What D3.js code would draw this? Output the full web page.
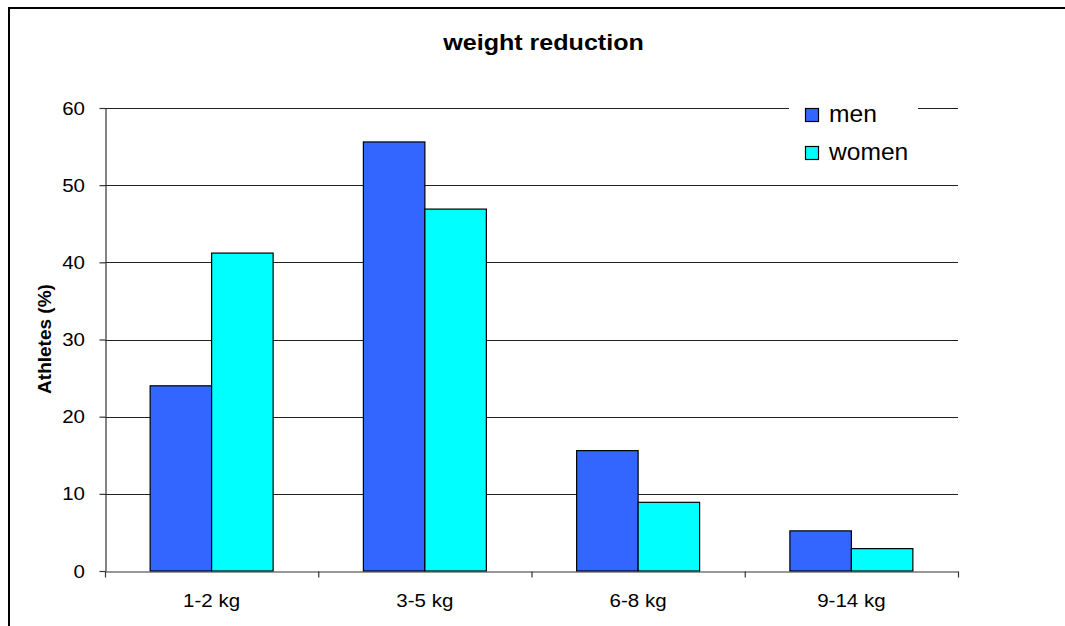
<!DOCTYPE html>
<html><head><meta charset="utf-8">
<script src="https://cdn.jsdelivr.net/npm/d3@7"></script>
<style>
html,body{margin:0;padding:0;background:#fff;overflow:hidden;}
svg{display:block;font-family:"Liberation Sans",Arial,sans-serif;}
</style></head>
<body>
<svg id="chart" width="1065" height="626"></svg>
<script>
const categories = ["1-2 kg", "3-5 kg", "6-8 kg", "9-14 kg"];
const seriesNames = ["men", "women"];
const menValues = [24.0, 55.6, 15.6, 5.2];
const womenValues = [41.2, 46.9, 8.9, 2.9];
const yTicks = [0, 10, 20, 30, 40, 50, 60];
const colors = {men: "#3366FF", women: "#00FFFF"};

(function () {
const svg = d3.select("#chart");
const SX = 1.08;
const pLeft = 105, pRight = 958, pTop = 108, pBottom = 571;

// outer border (left and top edges visible only)
svg.append("path").attr("d", "M9,630 L9,8 L1070,8")
  .attr("fill", "none").attr("stroke", "#000").attr("stroke-width", 2);

const x0 = d3.scaleBand().domain(categories).range([pLeft, pRight]).padding(0);
const x1 = d3.scaleBand().domain(seriesNames).range([0, x0.bandwidth()]).paddingInner(0).paddingOuter(0.734);
const y = d3.scaleLinear().domain([0, 60]).range([pBottom, pTop]);

// gridlines
svg.append("g").selectAll("line").data(yTicks.filter(d => d > 0)).join("line")
  .attr("x1", pLeft).attr("x2", pRight)
  .attr("y1", d => Math.round(y(d)) + 0.5).attr("y2", d => Math.round(y(d)) + 0.5)
  .attr("stroke", "#222").attr("stroke-width", 1);

// bars
const data = categories.map((c, i) => ({cat: c, men: menValues[i], women: womenValues[i]}));
const groups = svg.append("g").selectAll("g").data(data).join("g")
  .attr("transform", d => `translate(${x0(d.cat)},0)`);
groups.selectAll("rect").data(d => seriesNames.map(s => ({s, v: d[s]}))).join("rect")
  .attr("x", d => x1(d.s)).attr("width", x1.bandwidth())
  .attr("y", d => y(d.v)).attr("height", d => y(0) - y(d.v))
  .attr("fill", d => colors[d.s]).attr("stroke", "#000").attr("stroke-width", 1.2);

// y axis
const yAxis = svg.append("g").attr("transform", `translate(${pLeft + 0.5},0)`)
  .call(d3.axisLeft(y).tickValues(yTicks).tickSize(6).tickSizeOuter(0).tickPadding(13));
yAxis.select(".domain").attr("stroke", "#333").attr("stroke-width", 1.2);
yAxis.selectAll(".tick line").attr("stroke", "#333").attr("stroke-width", 1.2);
yAxis.selectAll(".tick text").attr("font-size", 19).attr("fill", "#000")
  .attr("font-family", "Liberation Sans, Arial, sans-serif")
  .attr("transform", `scale(${SX},1)`);

// x axis
const xTickScale = d3.scaleLinear().domain([0, categories.length]).range([pLeft, pRight]);
const xAxisG = svg.append("g").attr("transform", `translate(0,${pBottom + 0.5})`);
xAxisG.append("g").call(d3.axisBottom(xTickScale).tickValues(d3.range(categories.length + 1)).tickSize(6).tickSizeOuter(0).tickFormat(""))
  .call(g => { g.select(".domain").attr("stroke", "#333").attr("stroke-width", 1.2);
               g.selectAll(".tick line").attr("stroke", "#333").attr("stroke-width", 1.2); });
const xLab = xAxisG.append("g").call(d3.axisBottom(x0).tickSize(0).tickPadding(22));
xLab.select(".domain").remove();
xLab.selectAll(".tick text").attr("font-size", 19).attr("fill", "#000")
  .attr("font-family", "Liberation Sans, Arial, sans-serif")
  .attr("transform", `scale(${SX},1)`);

// title
svg.append("text").attr("transform", `translate(543.5,50) scale(1.14,1)`)
  .attr("text-anchor", "middle").attr("font-size", 22).attr("font-weight", "bold")
  .text("weight reduction");

// y label
svg.append("text").attr("transform", `translate(51,339) rotate(-90)`)
  .attr("text-anchor", "middle").attr("font-size", 19).attr("font-weight", "bold")
  .text("Athletes (%)");

// legend
const lg = svg.append("g");
lg.append("rect").attr("x", 789).attr("y", 96).attr("width", 129).attr("height", 72).attr("fill", "#fff");
const items = lg.selectAll("g").data(seriesNames).join("g")
  .attr("transform", (d, i) => `translate(805,${108 + i * 38})`);
items.append("rect").attr("x", 0.5).attr("y", 0.5).attr("width", 13).attr("height", 13)
  .attr("fill", d => colors[d]).attr("stroke", "#000").attr("stroke-width", 1.2);
items.append("text").attr("transform", `translate(24,14) scale(1.07,1)`)
  .attr("font-size", 23).text(d => d);
})();
</script>
</body></html>
